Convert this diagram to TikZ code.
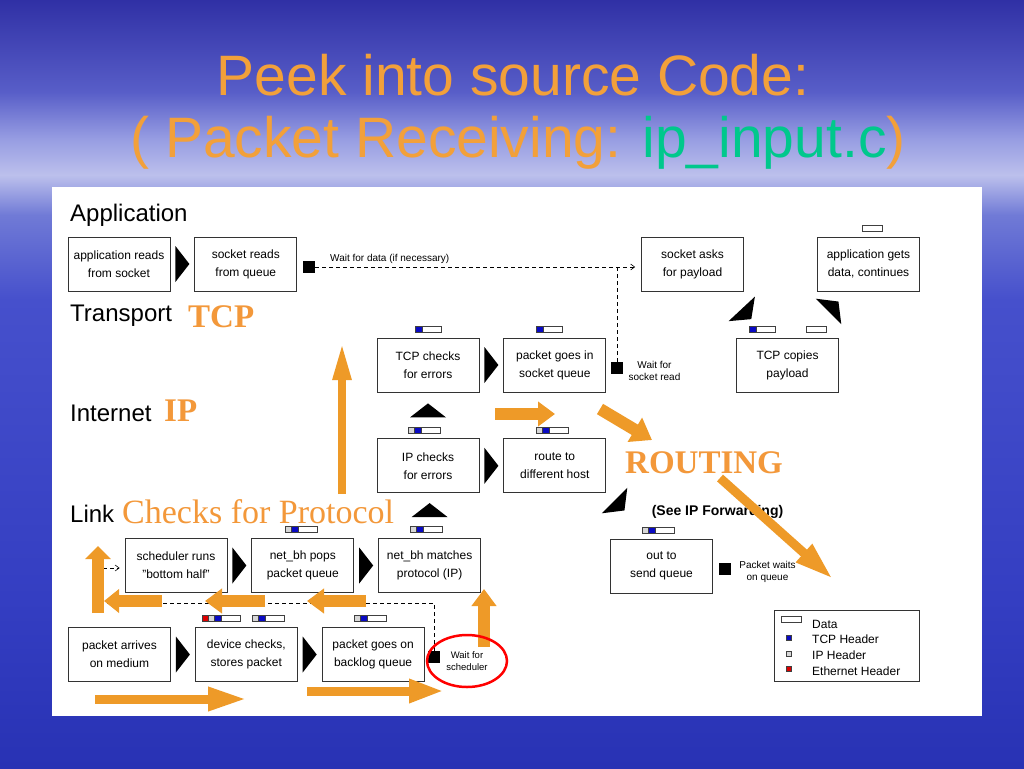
\documentclass[tikz,border=0pt]{standalone}
\usepackage{fontspec}
\setmainfont{Liberation Sans}
\newfontfamily\serifface{Liberation Serif}
\usetikzlibrary{positioning,calc,arrows.meta}

\definecolor{bgtop}{RGB}{48,48,165}
\definecolor{bgupper}{RGB}{88,94,200}
\definecolor{bghigh}{RGB}{150,156,226}
\definecolor{bgband}{RGB}{188,192,236}
\definecolor{bgpale}{RGB}{112,122,214}
\definecolor{bgmid}{RGB}{70,80,204}
\definecolor{bglow}{RGB}{52,62,194}
\definecolor{bgbot}{RGB}{40,50,180}
\definecolor{titleor}{RGB}{242,160,58}
\definecolor{titlegreen}{RGB}{0,200,140}
\definecolor{flowor}{RGB}{238,154,40}
\definecolor{protoor}{RGB}{243,152,58}
\definecolor{tcpblue}{RGB}{10,10,195}
\definecolor{iphdr}{RGB}{215,215,215}
\definecolor{ethred}{RGB}{220,0,0}

\pgfdeclareverticalshading{slidebg}{100bp}{color(0bp)=(bgbot); color(25bp)=(bgbot);
  color(36bp)=(bglow); color(55.5bp)=(bgmid); color(61bp)=(bgpale); color(63.6bp)=(bgband);
  color(66bp)=(bghigh); color(69bp)=(bgupper); color(75bp)=(bgtop); color(100bp)=(bgtop)}

\tikzset{
  hdr/.style={line width=0.4pt, draw=black!75},
  tcpbar/.pic={\filldraw[hdr,fill=tcpblue] (0,-3) rectangle (7,3);
    \filldraw[hdr,fill=white] (7,-3) rectangle (26,3);},
  ipbar/.pic={\filldraw[hdr,fill=iphdr] (0,-3) rectangle (6,3);
    \filldraw[hdr,fill=tcpblue] (6,-3) rectangle (13,3);
    \filldraw[hdr,fill=white] (13,-3) rectangle (32,3);},
  ethbar/.pic={\filldraw[hdr,fill=ethred] (0,-3) rectangle (6,3);
    \filldraw[hdr,fill=iphdr] (6,-3) rectangle (12,3);
    \filldraw[hdr,fill=tcpblue] (12,-3) rectangle (19,3);
    \filldraw[hdr,fill=white] (19,-3) rectangle (38,3);},
  databar/.pic={\filldraw[hdr,fill=white] (0,-3) rectangle (20,3);},
  flowtip/.pic={\fill (-7,-18) -- (7,0) -- (-7,18) -- cycle;}
}

\begin{document}
\begin{tikzpicture}[x=1pt,y=-1pt,
    stage/.style={draw=black!80, line width=0.8pt, minimum width=102pt, minimum height=54pt,
      inner sep=0pt, align=center, font=\fontsize{12}{18}\selectfont},
    layer/.style={anchor=base west, inner sep=0pt, font=\fontsize{24}{26}\selectfont},
    proto/.style={anchor=base west, inner sep=0pt, text=protoor, font=\serifface\bfseries\fontsize{33}{36}\selectfont},
    note/.style={align=center, inner sep=0pt, font=\fontsize{10}{12}\selectfont},
    waitsq/.style={fill=black, minimum size=12pt, inner sep=0pt},
    waitline/.style={line width=0.6pt, dash pattern=on 4pt off 3pt},
    titletxt/.style={anchor=base, inner sep=0pt, text=titleor, font=\fontsize{57}{60}\selectfont},
    flow/.style={draw=flowor, line width=12pt, -{Triangle[length=17pt,width=24pt]}},
    longflow/.style={draw=flowor, line width=9pt, -{Triangle[length=39pt,width=22pt]}}]
\useasboundingbox (0,0) rectangle (1024,768);
% slide background
\shade[shading=slidebg] (0,0) rectangle (1024,768);
\fill[white] (52,187) rectangle (982,716);

% title
\node[titletxt] (title1) at (513,95) {Peek into source Code:};
\node[titletxt] (title2) at (518,157) {( Packet Receiving: \textcolor{titlegreen}{ip\_input.c})};

% layers
\node[layer] (lapp) at (70,221) {Application};
\node[layer] (ltrans) at (70,321) {Transport};
\node[layer] (linet) at (70,421) {Internet};
\node[layer] (llink) at (70,522) {Link};
\node[proto] (ptcp) at (188,327) {TCP};
\node[proto] (pip) at (164,421) {IP};
\node[proto, font=\serifface\fontsize{34}{36}\selectfont] (pchk) at (122,523) {Checks for Protocol};
\node[proto] (prout) at (625,473) {ROUTING};

% stages
\node[stage] (appread) at (119,264) {application reads\\from socket};
\node[stage, right=24pt of appread] (sockread) {socket reads\\from queue};
\node[stage] (sockask) at (692.5,264) {socket asks\\for payload};
\node[stage] (appgets) at (868.5,264) {application gets\\data, continues};
\node[stage] (tcpchk) at (428,365) {TCP checks\\for errors};
\node[stage, right=24pt of tcpchk] (sockq) {packet goes in\\socket queue};
\node[stage] (tcpcopy) at (787.5,365) {TCP copies\\payload};
\node[stage, below=46pt of tcpchk] (ipchk) {IP checks\\for errors};
\node[stage, right=24pt of ipchk] (route) {route to\\different host};
\node[stage] (sched) at (176,565.5) {scheduler runs\\"bottom half"};
\node[stage, right=24pt of sched] (bhpops) {net\_bh pops\\packet queue};
\node[stage, right=24pt of bhpops] (bhmatch) {net\_bh matches\\protocol (IP)};
\node[stage] (outq) at (661.5,566) {out to\\send queue};
\node[stage] (arrive) at (119.5,654.5) {packet arrives\\on medium};
\node[stage, right=24pt of arrive] (devchk) {device checks,\\stores packet};
\node[stage, right=24pt of devchk] (backlog) {packet goes on\\backlog queue};
\node[font=\bfseries\fontsize{14}{16}\selectfont, inner sep=0pt] (fwd) at (717.5,512) {(See IP Forwarding)};

% packets
\pic at ([xshift=-13pt,yshift=8.5pt]tcpchk.north) {tcpbar};
\pic at ([xshift=-19pt,yshift=8.5pt]sockq.north) {tcpbar};
\pic at ([xshift=-38.5pt,yshift=8.5pt]tcpcopy.north) {tcpbar};
\pic at ([xshift=18.5pt,yshift=8.5pt]tcpcopy.north) {databar};
\pic at ([xshift=-6.5pt,yshift=8pt]appgets.north) {databar};
\pic at ([xshift=-44.5pt,yshift=9pt]devchk.north) {ethbar};
\foreach \n/\dx in {ipchk/-19.5, route/-19, bhmatch/-19, bhpops/-18, outq/-19.5, devchk/5.5, backlog/-18.5}
  \pic at ([xshift=\dx pt,yshift=8.5pt]\n.north) {ipbar};

% flow between stages
\foreach \a/\b in {appread/sockread, tcpchk/sockq, ipchk/route, sched/bhpops, bhpops/bhmatch, arrive/devchk, devchk/backlog}
  \pic at ($(\a.east)!.5!(\b.west)$) {flowtip};
\pic[rotate=90] at ([yshift=28pt]ipchk.north) {flowtip};
\pic[rotate=90] at ([yshift=28pt]bhmatch.north) {flowtip};
\pic[rotate=-47] at (746.5,314) {flowtip};
\pic[rotate=45] at (833.5,306.5) {flowtip};
\pic[rotate=-45] at (619.5,505.5) {flowtip};

% waiting
\node[waitsq] (wdata) at (309,267) {};
\node[note, anchor=base west] (wdatatxt) at (330,261) {Wait for data (if necessary)};
\node[waitsq] (wsock) at (617,368) {};
\node[note] (wsocktxt) at (654.5,371) {Wait for\\socket read};
\node[waitsq] (wqueue) at (724.5,569) {};
\node[note] (wqueuetxt) at (767.5,572) {Packet waits\\on queue};
\node[waitsq] (wsched) at (434,657) {};
\node[note, font=\fontsize{9.5}{12}\selectfont] (wschedtxt) at (467,661) {Wait for\\scheduler};
\coordinate (loopc) at (100,603);
\draw[waitline, -{Straight Barb[length=4pt,width=6pt]}, shorten >=6pt] (wdata.east) -- (sockask.west |- wdata);
\draw[waitline] (wsock.north) -- (wsock.north |- wdata);
\draw[waitline, -{Straight Barb[length=4pt,width=6pt]}, shorten >=5pt] (wsched.north) |- (loopc) |- ([yshift=-2.5pt]sched.west);

% highlights
\draw[longflow, line width=8pt, -{Triangle[length=38pt,width=17pt]}] (342,494) -- (342,342);
\draw[flow] (495,414) -- (555,414);
\draw[flow, -{Triangle[length=20pt,width=27pt]}] (600,409) -- (652,440);
\draw[longflow] (720,478) -- (833,579);
\draw[flow] (265,601) -- (205,601);
\draw[flow] (366,601) -- (307,601);
\draw[flow, -{Triangle[length=13pt,width=25pt]}] (98,613) -- (98,546);
\draw[flow, -{Triangle[length=15pt,width=23pt]}] (162,601) -- (104,601);
\draw[flow] (484,647) -- (484,589);
\draw[longflow] (95,699) -- (247,699);
\draw[longflow, -{Triangle[length=35pt,width=22pt]}] (307,691) -- (444,691);
\draw[red, line width=2.5pt] (wschedtxt) ellipse [x radius=40, y radius=26];

% legend
\node[draw=black!80, line width=0.8pt, minimum width=145pt, minimum height=71pt, inner sep=0pt] (legend) at (846.5,645.5) {};
\pic at (781,619.5) {databar};
\node[anchor=west, inner sep=0pt, font=\fontsize{12}{14}\selectfont] (leg0) at (812,624) {Data};
\foreach \lbl/\col [count=\i] in {TCP Header/tcpblue, IP Header/iphdr, Ethernet Header/ethred} {
  \filldraw[hdr, fill=\col] (786.5,619.5+15.7*\i) rectangle ++(5,5);
  \node[anchor=west, inner sep=0pt, font=\fontsize{12}{14}\selectfont] (leg\i) at (812,624+15.7*\i) {\lbl};
}
\end{tikzpicture}
\end{document}
